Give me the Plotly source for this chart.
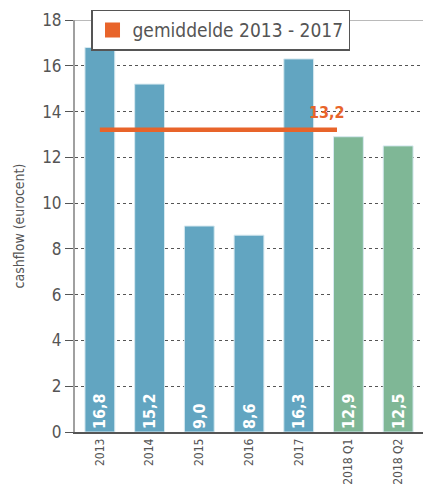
import plotly.graph_objects as go

categories = ["2013", "2014", "2015", "2016", "2017", "2018 Q1", "2018 Q2"]
values = [16.8, 15.2, 9.0, 8.6, 16.3, 12.9, 12.5]
labels = ["16,8", "15,2", "9,0", "8,6", "16,3", "12,9", "12,5"]
colors = ["#62A5C1"] * 5 + ["#7FB796"] * 2
avg_value = 13.2
avg_label = "13,2"
legend_name = "gemiddelde 2013 - 2017"
y_title = "cashflow (eurocent)"
y_ticks = [0, 2, 4, 6, 8, 10, 12, 14, 16, 18]

FONT = "Liberation Sans Narrow, DejaVu Sans Condensed, Roboto"
ORANGE = "#E8642A"

fig = go.Figure()
fig.add_trace(go.Bar(
    x=list(range(len(categories))), y=values, text=labels,
    marker=dict(color=colors, line=dict(color="#D6E9F0", width=1)),
    width=0.6, textposition="inside", insidetextanchor="start", textangle=-90,
    textfont=dict(family=FONT, size=16, color="white", weight="bold"),
    showlegend=False, cliponaxis=False,
))
fig.add_trace(go.Scatter(
    x=[0, 4.77], y=[avg_value, avg_value], mode="lines",
    line=dict(color=ORANGE, width=4.5), showlegend=False,
))
fig.add_trace(go.Scatter(
    x=[None], y=[None], mode="markers", name=legend_name,
    marker=dict(symbol="square", size=15, color=ORANGE),
))
fig.add_annotation(x=4.77, y=avg_value, text=avg_label, showarrow=False,
                   xanchor="right", yanchor="bottom", xshift=10, yshift=6,
                   font=dict(family=FONT, size=16, color=ORANGE, weight="bold"))
fig.add_shape(type="line", xref="paper", yref="y", x0=0, x1=1, y0=18, y1=18,
              line=dict(color="#777777", width=1.2), layer="below")

fig.update_layout(
    width=423, height=490,
    margin=dict(l=75, r=0, t=20, b=58),
    plot_bgcolor="white", paper_bgcolor="white",
    font=dict(family=FONT, color="#555555"),
    bargap=0.4,
    legend=dict(x=0.046, y=1.025, xanchor="left", yanchor="top",
                bgcolor="white", bordercolor="#555555", borderwidth=1.5,
                font=dict(family=FONT, size=19, color="#555555"),
                itemwidth=30),
    xaxis=dict(range=[-0.5, 6.5], tickmode="array",
               tickvals=list(range(len(categories))), ticktext=categories,
               tickangle=-90, tickfont=dict(size=12, color="#555555"),
               showline=True, linecolor="#555555", linewidth=1.5,
               showgrid=False, ticks="", zeroline=False, automargin=False),
    yaxis=dict(range=[0, 18], tickvals=y_ticks, tickfont=dict(size=17, color="#555555"),
               title=dict(text=y_title, font=dict(size=14, color="#555555"), standoff=14),
               showline=True, linecolor="#A0A0A0", linewidth=2,
               ticks="outside", ticklen=8, tickcolor="#555555", tickwidth=1.2,
               showgrid=True, gridcolor="#555555", griddash="dot", gridwidth=1,
               zeroline=False, automargin=False),
)
fig.write_html("out.html")
